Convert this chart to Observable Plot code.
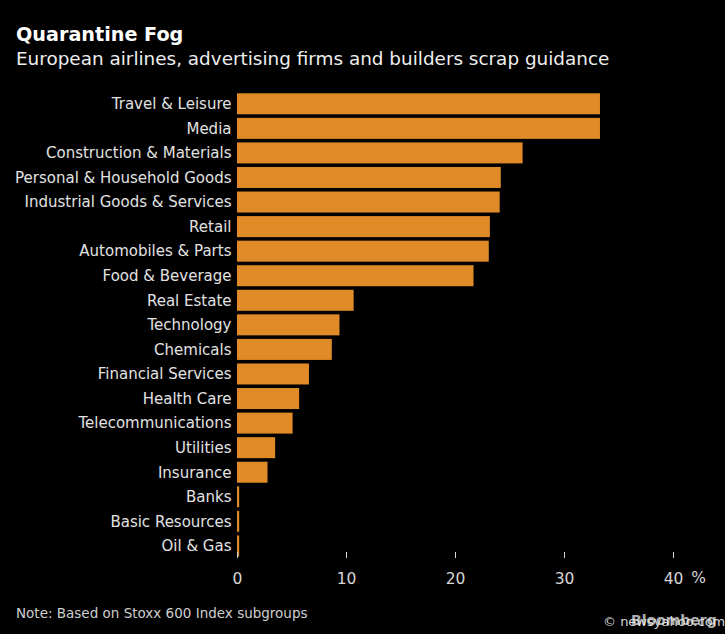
<!DOCTYPE html>
<html>
<head>
<meta charset="utf-8">
<script src="https://cdn.jsdelivr.net/npm/d3@7"></script>
<script src="https://cdn.jsdelivr.net/npm/@observablehq/plot@0.6"></script>
<style>
  html, body { margin: 0; padding: 0; background: #000; }
  #chart { position: relative; width: 725px; height: 634px; background: #000; overflow: hidden;
           font-family: "DejaVu Sans", sans-serif; }
  .txt { position: absolute; white-space: nowrap; }
  #title { left: 16px; top: 25px; font-size: 19.2px; line-height: 19px; font-weight: bold; color: #fff; }
  #subtitle { left: 16px; top: 50px; font-size: 18.4px; line-height: 18px; color: #eee; }
  #plot { position: absolute; left: 0; top: 80px; }
  #note { left: 16px; top: 607px; font-size: 13.5px; line-height: 13.5px; color: #cfcfcf; }
  #credit { left: 603px; top: 615px; font-size: 13px; line-height: 13px; color: #d8d8d8; }
  #brand { left: 631px; top: 613px; font-size: 14px; line-height: 14px; font-weight: bold; color: #e8e8e8; opacity: 0.75; }
</style>
</head>
<body>
<div id="chart">
  <div id="title" class="txt">Quarantine Fog</div>
  <div id="subtitle" class="txt">European airlines, advertising firms and builders scrap guidance</div>
  <div id="plot"></div>
  <div id="note" class="txt">Note: Based on Stoxx 600 Index subgroups</div>
  <div id="credit" class="txt">© newsyahoo.com</div>
  <div id="brand" class="txt">Bloomberg</div>
</div>
<script>
// Share of companies in each Stoxx 600 subgroup that have withdrawn guidance (%)
const sectors = [
  "Travel & Leisure", "Media", "Construction & Materials", "Personal & Household Goods",
  "Industrial Goods & Services", "Retail", "Automobiles & Parts", "Food & Beverage",
  "Real Estate", "Technology", "Chemicals", "Financial Services", "Health Care",
  "Telecommunications", "Utilities", "Insurance", "Banks", "Basic Resources", "Oil & Gas"
];
const shares = [
  33.3, 33.3, 26.2, 24.2,
  24.1, 23.2, 23.1, 21.7,
  10.7, 9.4, 8.7, 6.6, 5.7,
  5.1, 3.5, 2.8, 0.2, 0.2, 0.2
];
const xTicks = [0, 10, 20, 30, 40];

const data = sectors.map((sector, i) => ({sector, share: shares[i]}));

const chart = Plot.plot({
  width: 725,
  height: 500,
  marginLeft: 237,
  marginRight: 52,
  marginTop: 11,
  marginBottom: 28,
  style: {background: "#000", color: "#ddd", fontFamily: "DejaVu Sans, sans-serif", overflow: "visible"},
  x: {domain: [0, 40]},
  y: {domain: sectors, range: [11.5, 478.2], paddingInner: 0.145, paddingOuter: 0.073, round: false},
  marks: [
    Plot.barX(data, {x: "share", y: "sector", fill: "#e08b27"}),
    Plot.axisY({tickSize: 0, tickPadding: 6, fontSize: 15, label: null, color: "#e2e2e2"}),
    Plot.axisX({ticks: xTicks, tickSize: 6, tickPadding: 14, fontSize: 15.5, label: null,
                color: "#d6d6d6", strokeWidth: 1}),
    // unit marker placed after the last tick label
    Plot.text(["%"], {x: () => xTicks[xTicks.length - 1], frameAnchor: "bottom", dx: 25, dy: 30.5,
                      fontSize: 15.5, fill: "#d6d6d6"})
  ]
});
document.getElementById("plot").appendChild(chart);
</script>
</body>
</html>
